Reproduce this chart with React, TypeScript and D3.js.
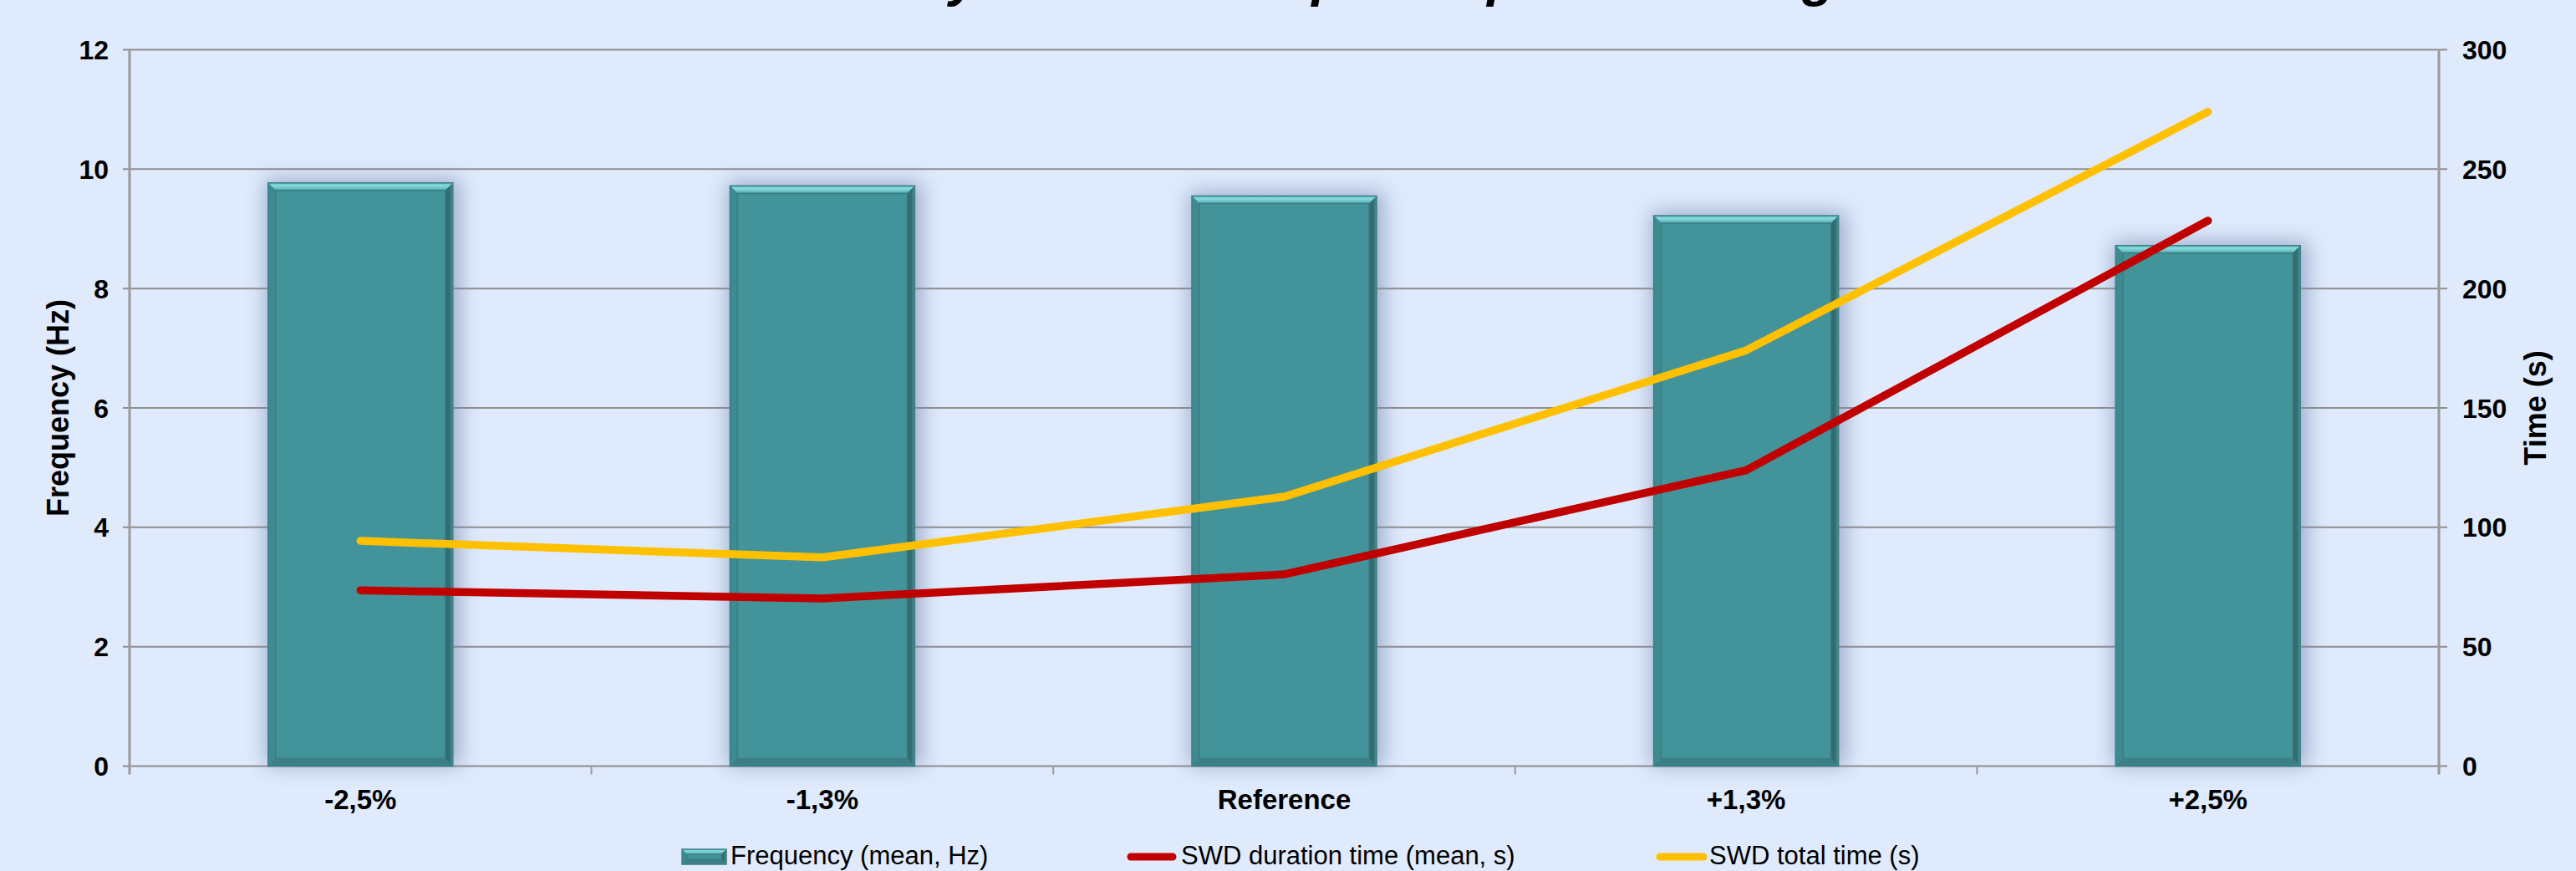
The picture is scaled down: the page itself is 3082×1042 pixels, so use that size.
import React from "react";
import * as d3 from "d3";

const categories = ["-2,5%", "-1,3%", "Reference", "+1,3%", "+2,5%"];
const frequencyMean = [9.77, 9.72, 9.55, 9.22, 8.72];
const swdDurationMean = [73.6, 70.2, 80.3, 123.9, 228.4];
const swdTotalTime = [94.3, 87.4, 112.8, 174.1, 274.0];
const leftTicks = [0, 2, 4, 6, 8, 10, 12];
const rightTicks = [0, 50, 100, 150, 200, 250, 300];
const seriesNames = ["Frequency (mean, Hz)", "SWD duration time (mean, s)", "SWD total time (s)"];
const titleText = "Sensitivity of SWD to input amplitude change";

const W = 3082;
const H = 1042;
const FONT = "Arial, 'Liberation Sans', sans-serif";

export default function App() {
  const x0 = 155, x1 = 2918, yTop = 59.5, yBot = 916.5;
  const x = d3.scaleBand<string>().domain(categories).range([x0, x1]).paddingInner(0.6).paddingOuter(0.3);
  const xb = d3.scaleBand<string>().domain(categories).range([x0, x1]);
  const yL = d3.scaleLinear().domain([0, 12]).range([yBot, yTop]);
  const yR = d3.scaleLinear().domain([0, 300]).range([yBot, yTop]);
  const line = d3.line<number>().x((_, i) => (xb(categories[i]) as number) + xb.bandwidth() / 2).y((d) => yR(d));
  const bw = x.bandwidth();
  const bev = 9;

  const bar = (bx: number, by: number, w: number, h: number, key: string | number) => {
    const bx1 = bx + w, by1 = by + h;
    const b = Math.min(bev, h / 3, w / 3);
    return (
      <g key={key}>
        <rect x={bx} y={by} width={w} height={h} fill="#43949A" />
        <polygon points={`${bx},${by} ${bx1},${by} ${bx1 - b},${by + b} ${bx + b},${by + b}`} fill="url(#topBevel)" />
        <polygon points={`${bx1},${by} ${bx1},${by1} ${bx1 - b},${by1 - b} ${bx1 - b},${by + b}`} fill="url(#rightBevel)" />
        <polygon points={`${bx},${by} ${bx + b},${by + b} ${bx + b},${by1 - b} ${bx},${by1}`} fill="#3E8A90" />
        <polygon points={`${bx},${by1} ${bx + b},${by1 - b} ${bx1 - b},${by1 - b} ${bx1},${by1}`} fill="#3A8086" />
        <rect x={bx + b} y={by + b} width={w - 2 * b} height={h - 2 * b} fill="none" stroke="#3A7D82" strokeWidth={1.5} />
        <rect x={bx} y={by} width={w} height={h} fill="none" stroke="#3B7F85" strokeWidth={1.5} />
      </g>
    );
  };

  return (
    <svg width={W} height={H} style={{ position: "absolute", left: 0, top: 0, display: "block" }} fontFamily={FONT}>
      <defs>
        <linearGradient id="topBevel" x1="0" y1="0" x2="0" y2="1">
          <stop offset="0" stopColor="#5FB8BD" />
          <stop offset="0.35" stopColor="#86DCE0" />
          <stop offset="0.7" stopColor="#6CC3C8" />
          <stop offset="1" stopColor="#4FA2A8" />
        </linearGradient>
        <linearGradient id="rightBevel" x1="0" y1="0" x2="1" y2="0">
          <stop offset="0" stopColor="#2E6A6F" />
          <stop offset="0.6" stopColor="#356F74" />
          <stop offset="1" stopColor="#4F9CA1" />
        </linearGradient>
        <filter id="shadow" x="-30%" y="-30%" width="160%" height="160%">
          <feGaussianBlur stdDeviation="12" />
        </filter>
      </defs>
      <rect x={0} y={0} width={W} height={H} fill="#DFEAFC" />

      <text x={1541} y={-5} textAnchor="middle" fontSize={64} fontWeight="bold" fontStyle="italic" fill="#000">
        {titleText}
      </text>

      {/* gridlines */}
      {leftTicks.map((t) => (
        <line key={"g" + t} x1={147} x2={2928} y1={yL(t)} y2={yL(t)} stroke="#8E8E8E" strokeWidth={2} />
      ))}
      {/* axes */}
      <line x1={x0} x2={x0} y1={yTop} y2={yBot + 10} stroke="#9A9A9A" strokeWidth={3} />
      <line x1={x1} x2={x1} y1={yTop} y2={yBot + 10} stroke="#9A9A9A" strokeWidth={3} />
      {categories.slice(1).map((c) => (
        <line key={"xt" + c} x1={xb(c) as number} x2={xb(c) as number} y1={yBot} y2={yBot + 10} stroke="#9A9A9A" strokeWidth={2} />
      ))}

      {/* bar shadows */}
      {frequencyMean.map((v, i) => (
        <rect key={"s" + i} x={(x(categories[i]) as number) - 3} y={yL(v) - 5} width={bw + 12} height={yBot - yL(v) + 5}
          fill="#7485AA" opacity={0.6} filter="url(#shadow)" />
      ))}
      {frequencyMean.map((v, i) => bar(x(categories[i]) as number, yL(v), bw, yBot - yL(v), i))}

      {/* lines */}
      <path d={line(swdTotalTime) as string} fill="none" stroke="#FFC000" strokeWidth={9.5} strokeLinecap="round" strokeLinejoin="round" />
      <path d={line(swdDurationMean) as string} fill="none" stroke="#C00000" strokeWidth={9.5} strokeLinecap="round" strokeLinejoin="round" />

      {/* tick labels */}
      {leftTicks.map((t) => (
        <text key={"l" + t} x={130} y={yL(t)} dy="0.36em" textAnchor="end" fontSize={32} fontWeight="bold">{t}</text>
      ))}
      {rightTicks.map((t) => (
        <text key={"r" + t} x={2946} y={yR(t)} dy="0.36em" textAnchor="start" fontSize={32} fontWeight="bold">{t}</text>
      ))}
      {categories.map((c) => (
        <text key={"c" + c} x={(xb(c) as number) + xb.bandwidth() / 2} y={968} textAnchor="middle" fontSize={33} fontWeight="bold">{c}</text>
      ))}

      <text transform={`translate(82,${(yTop + yBot) / 2}) rotate(-90)`} textAnchor="middle" fontSize={36} fontWeight="bold">Frequency (Hz)</text>
      <text transform={`translate(3046,${(yTop + yBot) / 2}) rotate(-90)`} textAnchor="middle" fontSize={36} fontWeight="bold">Time (s)</text>

      {/* legend */}
      <g>
        {bar(816, 1016, 53, 18, "lg")}
        <text x={874} y={1034} fontSize={31}>{seriesNames[0]}</text>
        <line x1={1353} x2={1403} y1={1025} y2={1025} stroke="#C00000" strokeWidth={9} strokeLinecap="round" />
        <text x={1413} y={1034} fontSize={31}>{seriesNames[1]}</text>
        <line x1={1986} x2={2038} y1={1025} y2={1025} stroke="#FFC000" strokeWidth={9} strokeLinecap="round" />
        <text x={2045} y={1034} fontSize={31}>{seriesNames[2]}</text>
      </g>
    </svg>
  );
}
